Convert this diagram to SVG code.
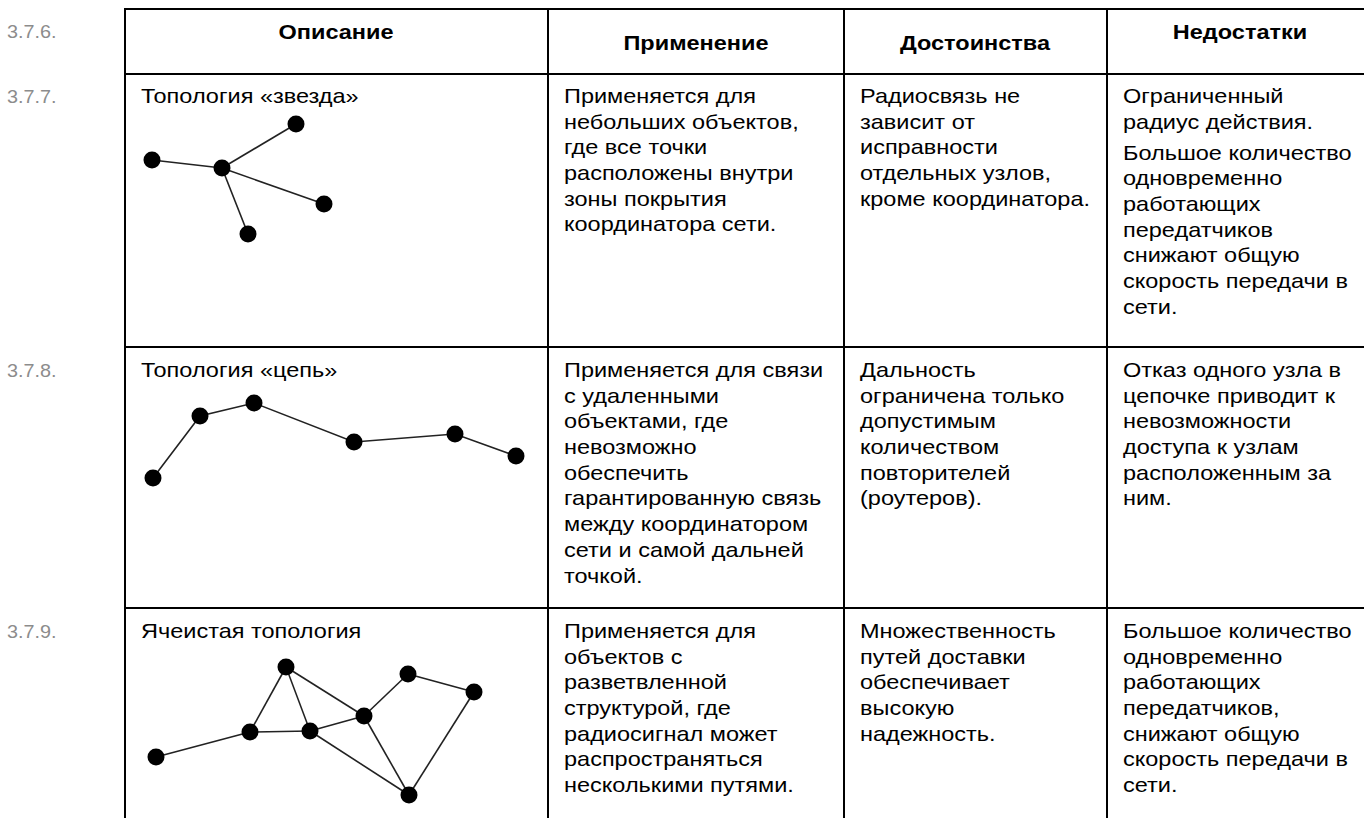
<svg xmlns="http://www.w3.org/2000/svg" width="1364" height="818" viewBox="0 0 1364 818">
<style>
.t{font-family:"Liberation Sans",Arial,sans-serif;font-size:21px;fill:#000}
.h{font-family:"Liberation Sans",Arial,sans-serif;font-size:21px;font-weight:bold;fill:#000;text-anchor:middle}
.n{font-family:"Liberation Sans",Arial,sans-serif;font-size:18px;fill:#8c8c8c}
.grid{stroke:#000;stroke-width:2;fill:none}
.e{stroke:#222;stroke-width:1.6;fill:none}
.nd{fill:#000}
</style>
<rect width="1364" height="818" fill="#fff"/>
<g id="table">
<line class="grid" x1="125" y1="9" x2="1364" y2="9"/>
<line class="grid" x1="125" y1="74" x2="1364" y2="74"/>
<line class="grid" x1="125" y1="347" x2="1364" y2="347"/>
<line class="grid" x1="125" y1="608" x2="1364" y2="608"/>
<line class="grid" x1="125" y1="8" x2="125" y2="818"/>
<line class="grid" x1="548" y1="8" x2="548" y2="818"/>
<line class="grid" x1="844" y1="8" x2="844" y2="818"/>
<line class="grid" x1="1107" y1="8" x2="1107" y2="818"/>
</g>
<g id="labels">
<text class="n" transform="translate(7 38) scale(1.1 1)">3.7.6.</text>
<text class="n" transform="translate(7 103) scale(1.1 1)">3.7.7.</text>
<text class="n" transform="translate(7 377) scale(1.1 1)">3.7.8.</text>
<text class="n" transform="translate(7 638) scale(1.1 1)">3.7.9.</text>
</g>
<g id="header">
<text class="h" transform="translate(336 39) scale(1.12 1)">Описание</text>
<text class="h" transform="translate(696 50) scale(1.12 1)">Применение</text>
<text class="h" transform="translate(975 50) scale(1.12 1)">Достоинства</text>
<text class="h" transform="translate(1240 39) scale(1.12 1)">Недостатки</text>
</g>
<g id="row1">
<text class="t" transform="translate(141 103) scale(1.12 1)">Топология «звезда»</text>
<text class="t" transform="translate(564 103) scale(1.12 1)"><tspan x="0" y="0">Применяется для</tspan><tspan x="0" dy="25.7">небольших объектов,</tspan><tspan x="0" dy="25.7">где все точки</tspan><tspan x="0" dy="25.7">расположены внутри</tspan><tspan x="0" dy="25.7">зоны покрытия</tspan><tspan x="0" dy="25.7">координатора сети.</tspan></text>
<text class="t" transform="translate(860 103) scale(1.12 1)"><tspan x="0" y="0">Радиосвязь не</tspan><tspan x="0" dy="25.7">зависит от</tspan><tspan x="0" dy="25.7">исправности</tspan><tspan x="0" dy="25.7">отдельных узлов,</tspan><tspan x="0" dy="25.7">кроме координатора.</tspan></text>
<text class="t" transform="translate(1123 103) scale(1.12 1)"><tspan x="0" y="0">Ограниченный</tspan><tspan x="0" dy="25.7">радиус действия.</tspan><tspan x="0" dy="31">Большое количество</tspan><tspan x="0" dy="25.7">одновременно</tspan><tspan x="0" dy="25.7">работающих</tspan><tspan x="0" dy="25.7">передатчиков</tspan><tspan x="0" dy="25.7">снижают общую</tspan><tspan x="0" dy="25.7">скорость передачи в</tspan><tspan x="0" dy="25.7">сети.</tspan></text>
</g>
<g id="row2">
<text class="t" transform="translate(141 377) scale(1.12 1)">Топология «цепь»</text>
<text class="t" transform="translate(564 377) scale(1.12 1)"><tspan x="0" y="0">Применяется для связи</tspan><tspan x="0" dy="25.7">с удаленными</tspan><tspan x="0" dy="25.7">объектами, где</tspan><tspan x="0" dy="25.7">невозможно</tspan><tspan x="0" dy="25.7">обеспечить</tspan><tspan x="0" dy="25.7">гарантированную связь</tspan><tspan x="0" dy="25.7">между координатором</tspan><tspan x="0" dy="25.7">сети и самой дальней</tspan><tspan x="0" dy="25.7">точкой.</tspan></text>
<text class="t" transform="translate(860 377) scale(1.12 1)"><tspan x="0" y="0">Дальность</tspan><tspan x="0" dy="25.7">ограничена только</tspan><tspan x="0" dy="25.7">допустимым</tspan><tspan x="0" dy="25.7">количеством</tspan><tspan x="0" dy="25.7">повторителей</tspan><tspan x="0" dy="25.7">(роутеров).</tspan></text>
<text class="t" transform="translate(1123 377) scale(1.12 1)"><tspan x="0" y="0">Отказ одного узла в</tspan><tspan x="0" dy="25.7">цепочке приводит к</tspan><tspan x="0" dy="25.7">невозможности</tspan><tspan x="0" dy="25.7">доступа к узлам</tspan><tspan x="0" dy="25.7">расположенным за</tspan><tspan x="0" dy="25.7">ним.</tspan></text>
</g>
<g id="row3">
<text class="t" transform="translate(141 638) scale(1.12 1)">Ячеистая топология</text>
<text class="t" transform="translate(564 638) scale(1.12 1)"><tspan x="0" y="0">Применяется для</tspan><tspan x="0" dy="25.7">объектов с</tspan><tspan x="0" dy="25.7">разветвленной</tspan><tspan x="0" dy="25.7">структурой, где</tspan><tspan x="0" dy="25.7">радиосигнал может</tspan><tspan x="0" dy="25.7">распространяться</tspan><tspan x="0" dy="25.7">несколькими путями.</tspan></text>
<text class="t" transform="translate(860 638) scale(1.12 1)"><tspan x="0" y="0">Множественность</tspan><tspan x="0" dy="25.7">путей доставки</tspan><tspan x="0" dy="25.7">обеспечивает</tspan><tspan x="0" dy="25.7">высокую</tspan><tspan x="0" dy="25.7">надежность.</tspan></text>
<text class="t" transform="translate(1123 638) scale(1.12 1)"><tspan x="0" y="0">Большое количество</tspan><tspan x="0" dy="25.7">одновременно</tspan><tspan x="0" dy="25.7">работающих</tspan><tspan x="0" dy="25.7">передатчиков,</tspan><tspan x="0" dy="25.7">снижают общую</tspan><tspan x="0" dy="25.7">скорость передачи в</tspan><tspan x="0" dy="25.7">сети.</tspan></text>
</g>
<g id="connectors">
<line class="e" x1="222" y1="168" x2="152" y2="160"/>
<line class="e" x1="222" y1="168" x2="296" y2="124"/>
<line class="e" x1="222" y1="168" x2="324" y2="204"/>
<line class="e" x1="222" y1="168" x2="248" y2="234"/>
<polyline class="e" points="153,478 200,416 254,403 354,442 455,434 516,456"/>
<line class="e" x1="156" y1="757" x2="250" y2="732"/>
<line class="e" x1="250" y1="732" x2="286" y2="667"/>
<line class="e" x1="250" y1="732" x2="310" y2="731"/>
<line class="e" x1="286" y1="667" x2="310" y2="731"/>
<line class="e" x1="286" y1="667" x2="364" y2="716"/>
<line class="e" x1="310" y1="731" x2="364" y2="716"/>
<line class="e" x1="310" y1="731" x2="409" y2="795"/>
<line class="e" x1="364" y1="716" x2="408" y2="674"/>
<line class="e" x1="364" y1="716" x2="409" y2="795"/>
<line class="e" x1="408" y1="674" x2="474" y2="692"/>
<line class="e" x1="474" y1="692" x2="409" y2="795"/>
</g>
<g id="star-nodes">
<circle id="s1" class="nd" cx="152" cy="160" r="8.5"/>
<circle id="s2" class="nd" cx="222" cy="168" r="8.5"/>
<circle id="s3" class="nd" cx="296" cy="124" r="8.5"/>
<circle id="s4" class="nd" cx="324" cy="204" r="8.5"/>
<circle id="s5" class="nd" cx="248" cy="234" r="8.5"/>
</g>
<g id="chain-nodes">
<circle id="c1" class="nd" cx="153" cy="478" r="8.5"/>
<circle id="c2" class="nd" cx="200" cy="416" r="8.5"/>
<circle id="c3" class="nd" cx="254" cy="403" r="8.5"/>
<circle id="c4" class="nd" cx="354" cy="442" r="8.5"/>
<circle id="c5" class="nd" cx="455" cy="434" r="8.5"/>
<circle id="c6" class="nd" cx="516" cy="456" r="8.5"/>
</g>
<g id="mesh-nodes">
<circle id="m1" class="nd" cx="156" cy="757" r="8.5"/>
<circle id="m2" class="nd" cx="250" cy="732" r="8.5"/>
<circle id="m3" class="nd" cx="286" cy="667" r="8.5"/>
<circle id="m4" class="nd" cx="310" cy="731" r="8.5"/>
<circle id="m5" class="nd" cx="364" cy="716" r="8.5"/>
<circle id="m6" class="nd" cx="408" cy="674" r="8.5"/>
<circle id="m7" class="nd" cx="474" cy="692" r="8.5"/>
<circle id="m8" class="nd" cx="409" cy="795" r="8.5"/>
</g>
</svg>
